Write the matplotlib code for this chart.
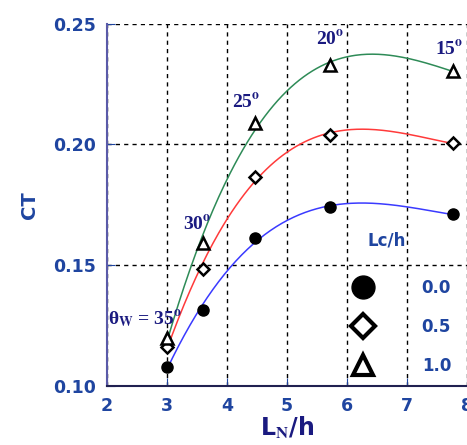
import numpy as np
import matplotlib.pyplot as plt
from matplotlib.lines import Line2D

plt.rcParams["mathtext.fontset"] = "stix"

# nozzle length ratio L_N/h at the five wall angles
ln_h = [3.0, 3.6, 4.46, 5.72, 7.77]
wall_angles = ["35", "30", "25", "20", "15"]

# thrust coefficient for each cowl length ratio Lc/h
ct_lc00 = [0.1079, 0.1315, 0.1614, 0.1739, 0.1710]
ct_lc05 = [0.1162, 0.1486, 0.1867, 0.2041, 0.2004]
ct_lc10 = [0.1199, 0.1590, 0.2089, 0.2330, 0.2303]
lc_labels = ["0.0", "0.5", "1.0"]

tick_blue = "#1f45a0"
navy = "#1a1a80"

fig = plt.figure(figsize=(4.67, 4.45), dpi=100)
ax = fig.add_axes([0.229, 0.1326, 0.771, 0.8142])

series = [
    (ct_lc00, "#3a3aff", dict(marker="o", ms=8, mfc="black", mec="black")),
    (ct_lc05, "#ff3a3a", dict(marker="D", ms=6, mfc="white", mec="black", mew=1.8)),
    (ct_lc10, "#2e8b57", dict(marker="^", ms=8, mfc="white", mec="black", mew=1.8)),
]

xs = np.linspace(ln_h[0], ln_h[-1], 200)
for ct, col, mk in series:
    coef = np.polyfit(ln_h, ct, 3)
    ax.plot(xs, np.polyval(coef, xs), color=col, lw=1.1, zorder=2)
    ax.plot(ln_h, ct, ls="none", zorder=3, **mk)

ax.set_xlim(2, 8)
ax.set_ylim(0.10, 0.25)
ax.set_xticks([2, 3, 4, 5, 6, 7, 8])
ax.set_yticks([0.10, 0.15, 0.20, 0.25])
ax.yaxis.set_major_formatter(plt.FormatStrFormatter("%.2f"))
ax.grid(True, color="black", ls=(0, (3, 3)), lw=1)
ax.set_axisbelow(True)
ax.tick_params(direction="in", length=6, colors=tick_blue, labelsize=12.5, pad=8)
for lab in ax.get_xticklabels() + ax.get_yticklabels():
    lab.set_fontweight("bold")
ax.spines["top"].set_visible(False)
ax.spines["right"].set_visible(False)
ax.spines["left"].set_color("#5a5aa8")
ax.spines["left"].set_linewidth(1.5)
ax.spines["bottom"].set_color("#202050")
ax.spines["bottom"].set_linewidth(1.5)

ax.set_xlabel(r"L$_\mathbf{N}$/h", fontsize=17, fontweight="bold", color=navy, labelpad=0)
ax.set_ylabel("CT", fontsize=14, fontweight="bold", color=tick_blue, labelpad=10)

# wall angle labels next to the top curve
serif = dict(family="Liberation Serif", fontweight="bold", color=navy, fontsize=14)
ax.text(2.01, 0.1275, r"θ$_{\mathbf{W}}$ = " + wall_angles[0] + r"$^{\mathbf{o}}$", va="center", **serif)
ax.text(3.27, 0.167, wall_angles[1] + r"$^{\mathbf{o}}$", va="center", **serif)
ax.text(4.08, 0.2175, wall_angles[2] + r"$^{\mathbf{o}}$", va="center", **serif)
ax.text(5.48, 0.2436, wall_angles[3] + r"$^{\mathbf{o}}$", va="center", **serif)
ax.text(7.47, 0.2394, wall_angles[4] + r"$^{\mathbf{o}}$", va="center", **serif)

# Lc/h key
handles = [
    Line2D([], [], ls="none", marker="o", ms=16.5, mfc="black", mec="black"),
    Line2D([], [], ls="none", marker="D", ms=12, mfc="white", mec="black", mew=3),
    Line2D([], [], ls="none", marker="^", ms=14, mfc="white", mec="black", mew=3),
]
leg = ax.legend(handles, lc_labels, frameon=False, fontsize=12,
                loc="upper left", bbox_to_anchor=(0.666, 0.296),
                handletextpad=2.5, labelspacing=1.27, borderpad=0, borderaxespad=0)
for t in leg.get_texts():
    t.set_color(tick_blue)
    t.set_fontweight("bold")
ax.text(0.725, 0.401, "Lc/h", transform=ax.transAxes, color=tick_blue,
        fontsize=12, fontweight="bold", va="center")

fig.savefig("out.png", dpi=100)
